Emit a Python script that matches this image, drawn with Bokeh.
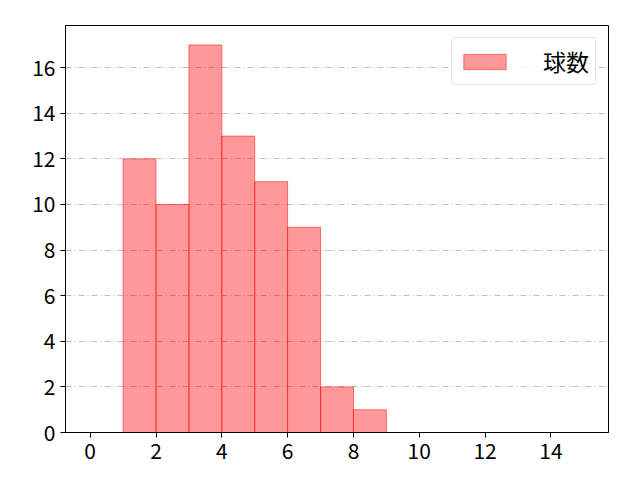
from bokeh.plotting import figure
from bokeh.models import Range1d, FixedTicker
from bokeh.embed import file_html
from bokeh.resources import INLINE

bin_left = [0, 1, 2, 3, 4, 5, 6, 7, 8, 9, 10, 11, 12, 13, 14]
bin_right = [1, 2, 3, 4, 5, 6, 7, 8, 9, 10, 11, 12, 13, 14, 15]
counts = [0, 12, 10, 17, 13, 11, 9, 2, 1, 0, 0, 0, 0, 0, 0]
x_ticks = [0, 2, 4, 6, 8, 10, 12, 14]
y_ticks = [0, 2, 4, 6, 8, 10, 12, 14, 16]
label = "球数"

FONT = "Noto Sans CJK JP"

p = figure(width=624, height=464, output_backend="svg", toolbar_location=None,
           x_range=Range1d(-0.75, 15.75), y_range=Range1d(0, 17.85),
           min_border_left=65, min_border_right=16, min_border_top=25, min_border_bottom=32)

p.quad(left=bin_left, right=bin_right, bottom=0, top=counts,
       fill_color="#ff0000", fill_alpha=0.4, line_color="#ff0000", line_alpha=0.5,
       line_width=1, legend_label=label)

p.outline_line_color = "black"
p.outline_line_width = 1
p.background_fill_color = "white"

p.xgrid.grid_line_color = None
p.ygrid.grid_line_color = "#b0b0b0"
p.ygrid.grid_line_dash = "6 3 1 3"
p.ygrid.grid_line_width = 0.8

for ax, ticks in ((p.xaxis, x_ticks), (p.yaxis, y_ticks)):
    ax.ticker = FixedTicker(ticks=ticks)
    ax.minor_tick_line_color = None
    ax.major_tick_in = 0
    ax.major_tick_out = 5
    ax.major_label_standoff = 5
    ax.major_tick_line_color = "black"
    ax.axis_line_color = "black"
    ax.major_label_text_font = FONT
    ax.major_label_text_font_size = "21px"
    ax.major_label_text_color = "black"

p.legend.location = "top_right"
p.legend.label_text_font = FONT
p.legend.label_text_font_size = "23px"
p.legend.label_text_color = "black"
p.legend.label_height = 20
p.legend.glyph_width = 53
p.legend.glyph_height = 19
p.legend.border_line_color = "#cccccc"
p.legend.border_radius = 4
p.legend.margin = 12
p.legend.padding = 6
p.legend.label_standoff = 32
p.legend.background_fill_alpha = 0.8

open("out.html", "w").write(file_html(p, INLINE))
